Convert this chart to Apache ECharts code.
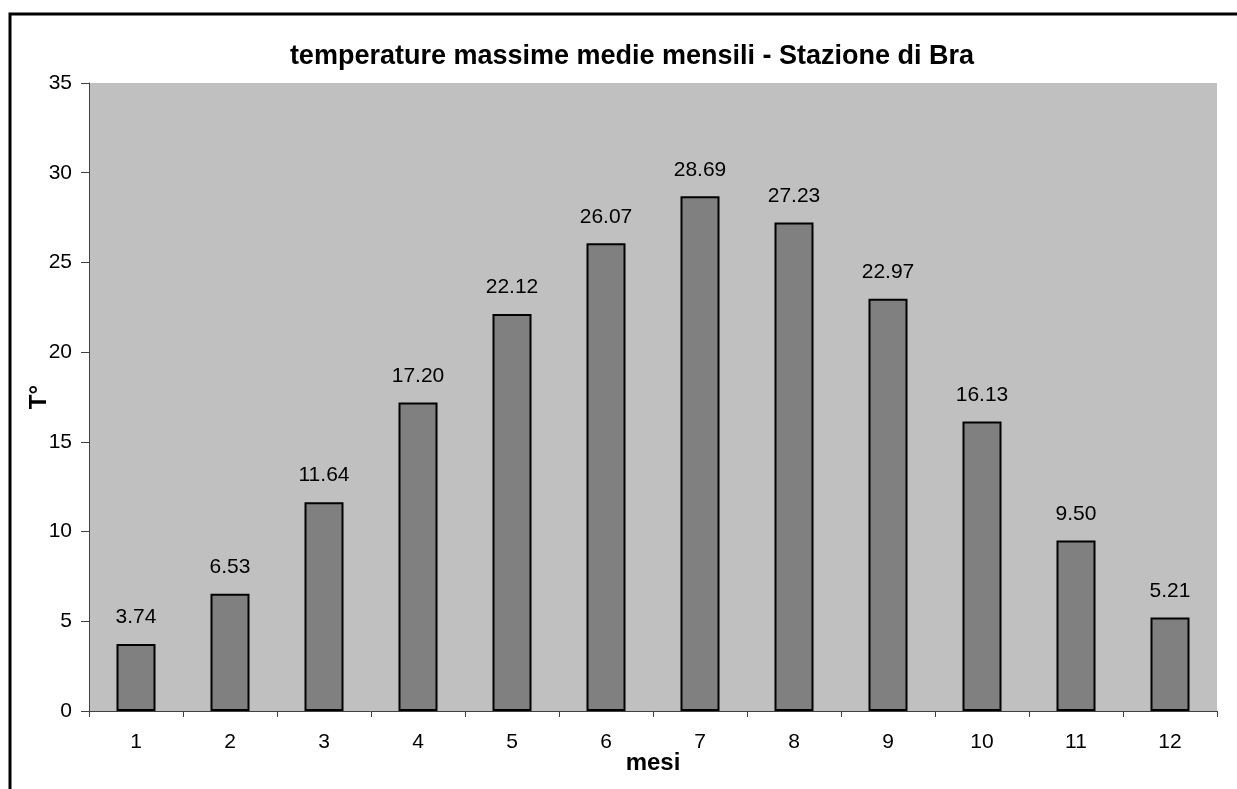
<!DOCTYPE html>
<html>
<head>
<meta charset="utf-8">
<script src="https://cdn.jsdelivr.net/npm/echarts@6/dist/echarts.min.js"></script>
<style>
	html, body { margin: 0; padding: 0; background: #fff; }
	#chart { width: 1237px; height: 789px; }
</style>
</head>
<body>
<div id="chart"></div>
<script>
	// dati
	const mesi = ['1', '2', '3', '4', '5', '6', '7', '8', '9', '10', '11', '12']
	const tempMax = [3.74, 6.53, 11.64, 17.20, 22.12, 26.07, 28.69, 27.23, 22.97, 16.13, 9.50, 5.21]

	const font = 'Liberation Sans, Arial, sans-serif'
	let chart = echarts.init(document.getElementById('chart'))

	chart.setOption({
		animation: false,
		textStyle: { fontFamily: font },
		title: {
			text: 'temperature massime medie mensili - Stazione di Bra',
			left: 627,
			top: 38,
			textAlign: 'center',
			textStyle: { fontSize: 27, fontWeight: 'bold', color: '#000', fontFamily: font }
		},
		graphic: [{
			type: 'rect',
			shape: { x: 10, y: 14, width: 1400, height: 1000 },
			style: { fill: 'none', stroke: '#000', lineWidth: 3 },
			silent: true
		}],
		grid: {
			left: 89,
			top: 83,
			width: 1128,
			height: 628,
			show: true,
			backgroundColor: '#c0c0c0',
			borderWidth: 0
		},
		xAxis: {
			type: 'category',
			data: mesi,
			name: 'mesi',
			nameLocation: 'middle',
			nameGap: 40,
			nameMoveOverlap: false,
			nameTextStyle: { fontSize: 24, fontWeight: 'bold', color: '#000' },
			axisLine: { lineStyle: { color: '#404040', width: 1 } },
			axisTick: { show: true, length: 6, lineStyle: { color: '#404040' } },
			axisLabel: { fontSize: 21, color: '#000', margin: 21 }
		},
		yAxis: {
			type: 'value',
			min: 0,
			max: 35,
			interval: 5,
			name: 'T°',
			nameLocation: 'middle',
			nameGap: 38,
			nameRotate: 90,
			nameMoveOverlap: false,
			nameTextStyle: { fontSize: 24, fontWeight: 'bold', color: '#000' },
			axisLine: { show: true, lineStyle: { color: '#404040', width: 1 } },
			axisTick: { show: true, length: 8, lineStyle: { color: '#404040' } },
			axisLabel: { fontSize: 21, color: '#000', margin: 17 },
			splitLine: { show: false }
		},
		series: [{
			type: 'bar',
			data: tempMax,
			barWidth: 39,
			itemStyle: { color: '#808080', borderColor: '#000', borderWidth: 2 },
			label: {
				show: true,
				position: 'top',
				distance: 16,
				fontSize: 21,
				color: '#000',
				formatter: p => p.value.toFixed(2)
			}
		}]
	})
</script>
</body>
</html>
